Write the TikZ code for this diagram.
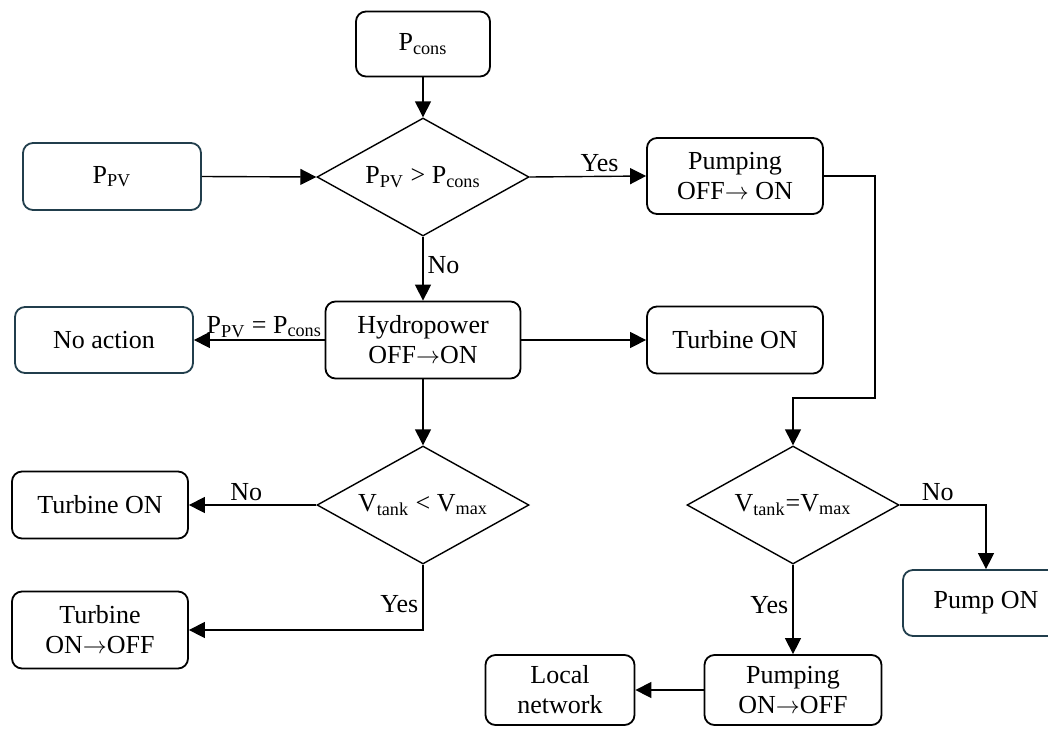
\documentclass[tikz,border=0pt]{standalone}
\usepackage{fontspec}
\setmainfont{Liberation Serif}
\usepackage{tikz}
\usetikzlibrary{shapes.geometric, arrows.meta, positioning}
\definecolor{slate}{HTML}{213E4C}
\tikzset{
  proc/.style={draw, line width=0.9pt, rounded corners=5pt, align=center, inner sep=0pt},
  dark/.style={proc, draw=slate},
  decide/.style={draw, line width=0.7pt, diamond, aspect=2, inner sep=0pt,
    minimum width=106pt, minimum height=59pt},
  arrow/.style={line width=0.7pt, -{Triangle[length=8pt,width=8pt]}},
  lbl/.style={inner sep=2pt}
}
\newcommand{\Ppv}{P\textsubscript{PV}}
\newcommand{\Pcons}{P\textsubscript{cons}}

\begin{document}
\begin{tikzpicture}[x=0.5pt, y=-0.5pt, font=\fontsize{13}{15}\selectfont]
    \useasboundingbox (0,0) rectangle (1048,728);
    \clip (0,0) rectangle (1048,728);

    % Inputs and first test
    \node[proc, minimum width=67pt, minimum height=32.5pt] (pcons) at (423,44) {\Pcons};
    \node[dark, minimum width=89pt, minimum height=33.5pt] (ppv) at (112,176.5) {\Ppv};
    \node[decide] (surplus) at (423,177) {\Ppv{} > \Pcons};
    \node[proc, minimum width=88pt, minimum height=38pt] (pumpstart) at (735,176) {Pumping\\OFF$\rightarrow$ ON};

    % Hydropower branch
    \node[proc, minimum width=97.5pt, minimum height=38.5pt] (hydro) at (423,340) {Hydropower\\OFF$\rightarrow$ON};
    \node[dark, minimum width=89pt, minimum height=33pt] (noaction) at (104,340) {No action};
    \node[proc, minimum width=88pt, minimum height=33.5pt] (turbA) at (735,340) {Turbine ON};
    \node[decide] (tankless) at (423,505) {V\textsubscript{tank} < V\textsubscript{max}};
    \node[proc, minimum width=88pt, minimum height=33.5pt] (turbB) at (100,505) {Turbine ON};
    \node[proc, minimum width=88pt, minimum height=38.5pt] (turbstop) at (100,630) {Turbine\\ON$\rightarrow$OFF};

    % Pumping branch
    \coordinate (bend) at (875,398);
    \node[decide] (tankfull) at (793,505) {V\textsubscript{tank}=V\textsubscript{max}};
    \node[dark, minimum width=83pt, minimum height=33pt] (pump) at (986,603) {Pump ON};
    \node[proc, minimum width=88.5pt, minimum height=35pt] (pumpstop) at (793,690) {Pumping\\ON$\rightarrow$OFF};
    \node[proc, minimum width=74.5pt, minimum height=35pt] (localnet) at (560,690) {Local\\network};

    % Connectors
    \draw[arrow] (pcons.south) -- (surplus.north);
    \draw[arrow] (ppv.east) -- (surplus.west);
    \draw[arrow] (surplus.east) -- node[lbl, above, pos=0.6] {Yes} (pumpstart.west);
    \draw[arrow] (surplus.south) -- node[lbl, right, pos=0.45] {No} (hydro.north);
    \draw[arrow] (hydro.west) -- node[lbl, above left, pos=0, inner sep=1pt] {\Ppv{} = \Pcons} (noaction.east);
    \draw[arrow] (hydro.east) -- (turbA.west);
    \draw[arrow] (hydro.south) -- (tankless.north);
    \draw[arrow] (tankless.west) -- node[lbl, above, pos=0.55] {No} (turbB.east);
    \draw[arrow] (tankless.south) |- node[lbl, left, pos=0.3] {Yes} (turbstop.east);
    \draw[arrow] (pumpstart.east) -| (bend) -| (tankfull.north);
    \draw[arrow] (tankfull.east) -| node[lbl, above, pos=0.22] {No} (pump.north);
    \draw[arrow] (tankfull.south) -- node[lbl, left, pos=0.45] {Yes} (pumpstop.north);
    \draw[arrow] (pumpstop.west) -- (localnet.east);

\end{tikzpicture}
\end{document}
